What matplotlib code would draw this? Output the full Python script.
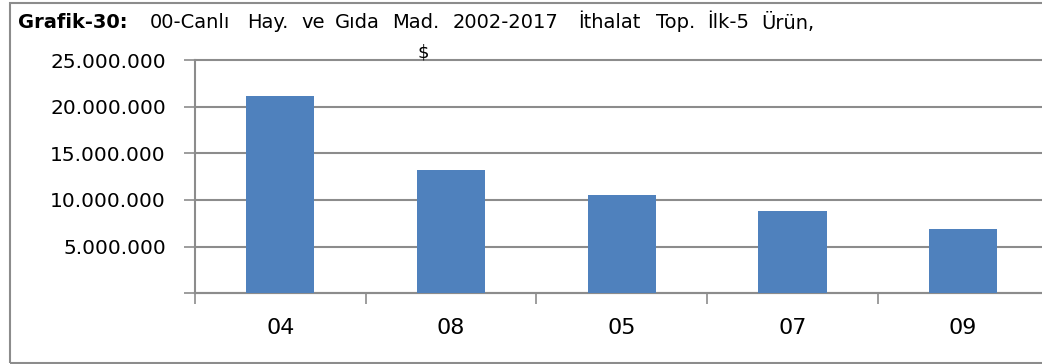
import matplotlib
matplotlib.use('Agg')
import matplotlib.pyplot as plt
from matplotlib.patches import Rectangle
from matplotlib.ticker import FuncFormatter, FixedLocator

# ilk 5 ürün, ithalat toplamı ($)
urunler = ['04', '08', '05', '07', '09']
ithalat = [21140000, 13180000, 10530000, 8820000, 6920000]
y_ticks = [0, 5000000, 10000000, 15000000, 20000000, 25000000]

baslik_kalin = 'Grafik-30:'
baslik = '00-Canlı Hay. ve Gıda Mad. 2002-2017 İthalat Top. İlk-5 Ürün,'
birim = '$'

BAR_COLOR = '#4F81BD'
GRID_COLOR = '#8c8c8c'

plt.rcParams.update({
    "font.family": ["DejaVu Sans"],
    "font.size": 14.5,
})

W, H = 1042, 364
fig = plt.figure(figsize=(W / 100, H / 100), dpi=100)

# plot area in pixels: x=195 .. ~1048, y=60 .. 293
left, right = 195, 195 + 5 * 170.7
top, bottom = 60, 293.3
ax = fig.add_axes([left / W, (H - bottom) / H, (right - left) / W, (bottom - top) / H])

xs = [i + 0.5 for i in range(len(urunler))]
ax.bar(xs, ithalat, width=0.4, color=BAR_COLOR, zorder=3)

ax.set_xlim(0, len(urunler))
ax.set_ylim(0, 25000000)
ax.yaxis.set_major_locator(FixedLocator(y_ticks))
ax.yaxis.set_major_formatter(FuncFormatter(
    lambda v, p: '' if v == 0 else f'{int(v):,}'.replace(',', '.')))
ax.grid(axis='y', color=GRID_COLOR, linewidth=1.5, zorder=0)
for gl in ax.get_ygridlines():
    gl.set_clip_on(False)

# category boundaries as major ticks, names centred under bars
ax.xaxis.set_major_locator(FixedLocator(range(len(urunler) + 1)))
ax.xaxis.set_major_formatter(FuncFormatter(lambda v, p: ''))
ax.set_xticks(xs, minor=True)
ax.set_xticklabels(urunler, minor=True, fontsize=16)
ax.tick_params(axis='x', which='major', direction='out', length=8, width=1.2, color=GRID_COLOR)
ax.tick_params(axis='x', which='minor', length=0, pad=18)
ax.tick_params(axis='y', direction='out', length=8, width=1.2, color=GRID_COLOR, pad=13)

for s in ['top', 'right']:
    ax.spines[s].set_visible(False)
for s in ['left', 'bottom']:
    ax.spines[s].set_color(GRID_COLOR)
    ax.spines[s].set_linewidth(1.5)

# outer frame of the chart box
fig.patches.append(Rectangle((9.5 / W, 1 - 363 / H), 1.1, (363 - 3) / H,
                             transform=fig.transFigure, fill=False,
                             edgecolor=GRID_COLOR, linewidth=1.5))

# title: bold prefix, then the words spread out to the box width
fs = 14
ty = 1 - 23 / H
fig.text(18 / W, ty, baslik_kalin, fontsize=fs, fontweight='bold', va='center', ha='left')

fig.canvas.draw()
r = fig.canvas.get_renderer()
words = baslik.split(' ')
probe = fig.text(0, 0, baslik, fontsize=fs)
full_w = probe.get_window_extent(r).width
probe.remove()
start, end = 150, 821
scale = (end - start) / full_w
x_nat = 0.0
for w in words:
    fig.text((start + x_nat * scale) / W, ty, w, fontsize=fs, va='center', ha='left')
    tmp = fig.text(0, 0, w + ' ', fontsize=fs)
    x_nat += tmp.get_window_extent(r).width
    tmp.remove()

fig.text(423 / W, 1 - 52 / H, birim, fontsize=13, va='center', ha='center')

fig.savefig('out.png', dpi=100)
